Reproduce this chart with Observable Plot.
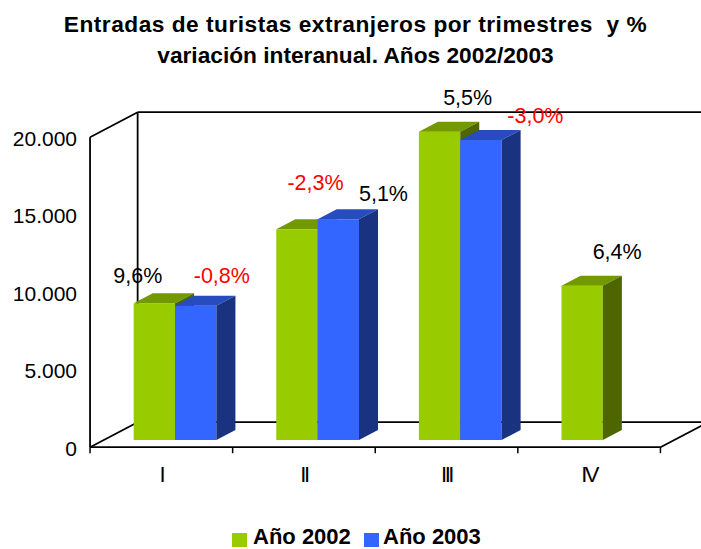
<!DOCTYPE html>
<html>
<head>
<meta charset="utf-8">
<script src="https://cdn.jsdelivr.net/npm/d3@7"></script>
<script src="https://cdn.jsdelivr.net/npm/@observablehq/plot@0.6"></script>
<style>
  html, body { margin: 0; padding: 0; background: #fff; }
  body { width: 701px; height: 549px; overflow: hidden; position: relative; font-family: "Liberation Sans", Arial, sans-serif; }
  .t { position: absolute; left: 5px; width: 701px; text-align: center; font-weight: bold; font-size: 22.7px; line-height: 1; white-space: pre; color: #000; }
  #chart { position: absolute; left: 0; top: 84px; }
  .lg { position: absolute; font-weight: bold; font-size: 22px; line-height: 18px; height: 18px; white-space: pre; color: #000; }
  .sw { position: absolute; width: 15px; height: 14px; }
</style>
</head>
<body>
<div class="t" id="t1" style="top:12.5px; letter-spacing:0.5px;"></div>
<div class="t" id="t2" style="top:43.8px;"></div>
<div id="chart"></div>
<div class="sw" id="sw0" style="left:231.7px; top:532.5px;"></div>
<div class="lg" id="lg0" style="left:253px; top:527.5px;"></div>
<div class="sw" id="sw1" style="left:364px; top:532.5px;"></div>
<div class="lg" id="lg1" style="left:383px; top:527.5px;"></div>
<script>
// ---- data ----
const titleLines = ["Entradas de turistas extranjeros por trimestres  y %", "variación interanual. Años 2002/2003"];
const categories = ["I", "II", "III", "IV"];
const seriesNames = ["Año 2002", "Año 2003"];
const values2002 = [8820, 13590, 19890, 9955];
const values2003 = [8665, 14240, 19355, null];
const labels2002 = ["9,6%", "5,1%", "5,5%", "6,4%"];
const labels2003 = ["-0,8%", "-2,3%", "-3,0%", null];
const yTicks = [0, 5000, 10000, 15000, 20000];

// ---- styles / layout ----
const colors = [
  {front: "#99CC00", top: "#739900", side: "#4D6600", label: "#000000"},
  {front: "#3366FF", top: "#264CBF", side: "#1A3380", label: "#FF0000"}
];
// per-label nudges (px) relative to the top-centre of the bar's front face
const labelNudge = [
  [[-17, -20.6], [86, -29.3], [27.6, -27.7], [34.5, -27.4]],
  [[25.6, -23], [-23.3, -29.3], [54, -17.7], null]
];

document.getElementById("t1").textContent = titleLines[0];
document.getElementById("t2").textContent = titleLines[1];
document.getElementById("lg0").textContent = seriesNames[0];
document.getElementById("lg1").textContent = seriesNames[1];
document.getElementById("sw0").style.background = colors[0].front;
document.getElementById("sw1").style.background = colors[1].front;

// projection: x in category units, y in value units, z in depth fractions
const bandPx = 142.6, valPx = 310 / 20000;
const DX = 47.6 / bandPx, DY = 25 / valPx;
const zFront = -0.268, zBack = 0.732, zBar = 0.4;
const P = (x, y, z) => ({x: x + z * DX, y: y + z * DY});
const seg = (a, b) => ({x1: a.x, y1: a.y, x2: b.x, y2: b.y});

const nCat = categories.length, yMax = 20000;
const frame = [
  seg(P(0, 0, zFront), P(0, yMax, zFront)),
  seg(P(0, yMax, zFront), P(0, yMax, zBack)),
  seg(P(0, 0, zFront), P(0, 0, zBack)),
  seg(P(0, 0, zBack), P(0, yMax, zBack)),
  seg(P(0, yMax, zBack), P(nCat, yMax, zBack)),
  seg(P(0, 0, zBack), P(nCat, 0, zBack)),
  seg(P(0, 0, zFront), P(nCat, 0, zFront)),
  seg(P(nCat, 0, zFront), P(nCat, 0, zBack))
];
const tickLen = 6 / valPx;
const xTicks = d3.range(0, nCat + 1).map(k => {
  const p = P(k, 0, zFront);
  return {x1: p.x, y1: p.y, x2: p.x, y2: p.y - tickLen};
});

const gap = 0.22, bw = 0.29;
const allValues = [values2002, values2003];
const allLabels = [labels2002, labels2003];
const bars = [];
allValues.forEach((vals, s) => vals.forEach((v, i) => {
  if (v == null) return;
  const xl = i + gap + s * bw, xr = xl + bw;
  bars.push({s, i, v, xl, xr, id: s + "-" + i, label: allLabels[s][i]});
}));
const dxB = zBar * DX, dyB = zBar * DY;
const topPts = s => bars.filter(b => b.s === s).flatMap(b => [
  {id: b.id, x: b.xl, y1: b.v, y2: b.v},
  {id: b.id, x: b.xl + dxB, y1: b.v, y2: b.v + dyB},
  {id: b.id, x: b.xr, y1: b.v, y2: b.v + dyB},
  {id: b.id, x: b.xr + dxB, y1: b.v + dyB, y2: b.v + dyB}
]);
const sidePts = s => bars.filter(b => b.s === s).flatMap(b => [
  {id: b.id, x: b.xr, y1: 0, y2: b.v},
  {id: b.id, x: b.xr + dxB, y1: dyB, y2: b.v + dyB}
]);

const fmt = d3.formatLocale({decimal: ",", thousands: ".", grouping: [3], currency: ["", ""]}).format(",d");

const marks = [
  Plot.link(frame, {x1: "x1", y1: "y1", x2: "x2", y2: "y2", stroke: "#000", strokeWidth: 1.8}),
  Plot.link(xTicks, {x1: "x1", y1: "y1", x2: "x2", y2: "y2", stroke: "#000", strokeWidth: 1.5}),
  Plot.text(yTicks, {x: d => P(0, d, zFront).x, y: d => P(0, d, zFront).y, text: d => fmt(d),
    textAnchor: "end", dx: -13, dy: 2, fontSize: 21, fill: "#000"}),
  Plot.text(categories, {x: (d, i) => P(i + 0.5, 0, zFront).x, y: (d, i) => P(i + 0.5, 0, zFront).y,
    text: d => d, lineAnchor: "bottom", dy: 35, fontSize: 22, fill: "#000"})
];
[0, 1].forEach(s => {
  const bs = bars.filter(b => b.s === s);
  marks.push(Plot.rect(bs, {x1: "xl", x2: "xr", y1: 0, y2: "v", fill: colors[s].front}));
  marks.push(Plot.areaY(topPts(s), {x: "x", y1: "y1", y2: "y2", z: "id", fill: colors[s].top}));
  marks.push(Plot.areaY(sidePts(s), {x: "x", y1: "y1", y2: "y2", z: "id", fill: colors[s].side}));
});
bars.forEach(b => {
  if (!b.label) return;
  const [ndx, ndy] = labelNudge[b.s][b.i];
  marks.push(Plot.text([b], {x: d => (d.xl + d.xr) / 2, y: "v", text: "label",
    lineAnchor: "bottom", dx: ndx, dy: ndy, fontSize: 21.5, fill: colors[b.s].label}));
});

const chart = Plot.plot({
  width: 701,
  height: 420,
  margin: 0,
  x: {type: "linear", domain: [0, nCat], range: [102.3, 102.3 + nCat * bandPx], axis: null},
  y: {type: "linear", domain: [0, yMax], range: [356, 356 - yMax * valPx], axis: null},
  style: {fontFamily: "'Liberation Sans', Arial, sans-serif", background: "transparent", overflow: "hidden"},
  marks
});
// tighter spacing for the roman-numeral category labels, as in the reference
d3.select(chart).selectAll("text").filter(function() {
  return categories.includes(this.textContent);
}).style("letter-spacing", "-2.5px");
document.getElementById("chart").appendChild(chart);
</script>
</body>
</html>
